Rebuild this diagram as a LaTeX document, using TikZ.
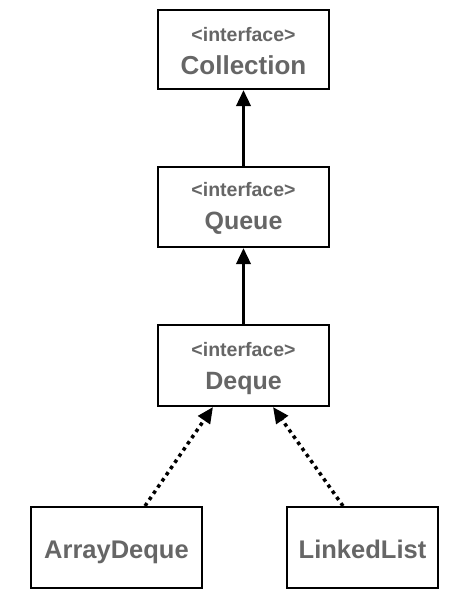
\documentclass[tikz,border=0pt]{standalone}
\usepackage{fontspec}
\setmainfont{Liberation Sans}
\usetikzlibrary{arrows.meta,calc}
\definecolor{txtgray}{HTML}{666666}
\tikzset{
  umlbox/.style={draw=black, line width=2pt, rectangle, minimum width=171pt, minimum height=79pt, inner sep=0pt},
  stereo/.style={anchor=base, text=txtgray, font=\bfseries\fontsize{19.5}{19.5}\selectfont, inner sep=0pt},
  cname/.style={anchor=base, text=txtgray, font=\bfseries\fontsize{25}{25}\selectfont, inner sep=0pt},
  inherit/.style={line width=3.5pt, -{Triangle[length=16pt,width=14pt]}},
  realize/.style={line width=3.5pt, dash pattern=on 3.5pt off 4pt, -{Triangle[length=16pt,width=14pt]}},
}
\begin{document}
\begin{tikzpicture}[x=1pt,y=-1pt]
\useasboundingbox (0,0) rectangle (470,600);
\node[umlbox] (coll) at (243.5,49.5) {};
\node[umlbox, minimum height=80pt] (queue) at (243.5,207) {};
\node[umlbox, minimum height=81pt] (deque) at (243.5,365.5) {};
\node[umlbox, minimum height=81pt] (arraydeque) at (116.5,547.5) {};
\node[umlbox, minimum width=151pt, minimum height=81pt] (linkedlist) at (362.5,547.5) {};

\node[stereo] (collS) at ($(coll.center)+(0,-8.5)$) {<interface>};
\node[cname, font=\bfseries\fontsize{26}{26}\selectfont] (collN) at ($(coll.center)+(0,24.8)$) {Collection};
\node[stereo] (queueS) at ($(queue.center)+(0,-10.5)$) {<interface>};
\node[cname] (queueN) at ($(queue.center)+(0,22.3)$) {Queue};
\node[stereo] (dequeS) at ($(deque.center)+(0,-8.8)$) {<interface>};
\node[cname] (dequeN) at ($(deque.center)+(0,23.8)$) {Deque};
\node[cname, font=\bfseries\fontsize{25.5}{25.5}\selectfont] (adN) at ($(arraydeque.center)+(0,10.8)$) {ArrayDeque};
\node[cname, font=\bfseries\fontsize{25.5}{25.5}\selectfont] (llN) at ($(linkedlist.center)+(0,10.8)$) {LinkedList};

\draw[inherit] (queue.north) -- (coll.south);
\draw[inherit] (deque.north) -- (queue.south);
\draw[realize] ($(arraydeque.north)+(28.5,0)$) -- ($(deque.south)+(-30.5,0)$);
\draw[realize] ($(linkedlist.north)+(-19.5,0)$) -- ($(deque.south)+(29.5,0)$);
\end{tikzpicture}
\end{document}
